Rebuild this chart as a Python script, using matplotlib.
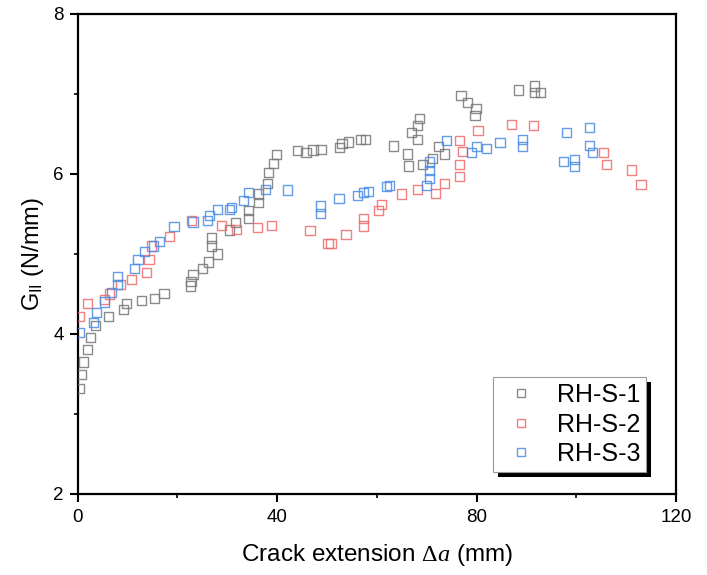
import matplotlib
matplotlib.use("Agg")
import matplotlib.pyplot as plt
from matplotlib.patches import Rectangle
from matplotlib.lines import Line2D

plt.rcParams['font.family'] = ['Liberation Sans', 'DejaVu Sans']
plt.rcParams['mathtext.fontset'] = 'custom'
plt.rcParams['mathtext.rm'] = 'Liberation Serif'
plt.rcParams['mathtext.it'] = 'Liberation Serif:italic'
plt.rcParams['mathtext.sf'] = 'Liberation Sans'

# ---- data ----
s1_x = [0.4, 0.7, 1.2, 1.9, 2.5, 3.6, 6.1, 9.2, 9.8, 12.8, 15.4, 17.3, 22.6, 22.7, 23.1,
        25.1, 26.3, 28.0, 26.9, 26.9, 30.5, 31.6, 34.3, 34.3, 36.3, 36.3, 38.1, 38.2, 39.3,
        39.9, 44.1, 45.8, 47.2, 48.8, 52.5, 53.0, 54.3, 56.7, 57.7, 63.4, 66.2, 66.4, 67.0,
        68.1, 68.5, 68.1, 69.2, 71.2, 72.3, 73.5, 76.9, 78.2, 79.9, 79.7, 88.5, 91.6, 91.6, 92.9]
s1_y = [3.32, 3.49, 3.65, 3.81, 3.96, 4.11, 4.22, 4.31, 4.38, 4.42, 4.44, 4.51, 4.60, 4.66, 4.74,
        4.82, 4.90, 5.00, 5.10, 5.20, 5.30, 5.39, 5.44, 5.54, 5.64, 5.75, 5.88, 6.02, 6.13,
        6.24, 6.29, 6.27, 6.30, 6.31, 6.33, 6.38, 6.40, 6.43, 6.43, 6.35, 6.25, 6.10, 6.52,
        6.61, 6.69, 6.43, 6.12, 6.19, 6.34, 6.25, 6.98, 6.89, 6.82, 6.73, 7.05, 7.10, 7.02, 7.02]

s2_x = [0.4, 1.9, 5.3, 6.4, 8.6, 10.8, 13.8, 14.3, 14.8, 18.4, 22.8, 28.9, 31.9, 36.1, 38.9,
        46.6, 50.2, 50.8, 53.8, 57.3, 57.3, 60.3, 60.9, 65.0, 68.1, 71.7, 73.5, 76.6, 76.6,
        77.2, 76.6, 80.3, 87.0, 91.4, 105.4, 106.0, 111.1, 113.0]
s2_y = [4.22, 4.38, 4.43, 4.50, 4.62, 4.68, 4.77, 4.93, 5.10, 5.22, 5.42, 5.36, 5.31, 5.33, 5.36,
        5.29, 5.13, 5.13, 5.24, 5.35, 5.44, 5.54, 5.62, 5.75, 5.81, 5.76, 5.88, 5.97, 6.12,
        6.28, 6.42, 6.54, 6.62, 6.61, 6.27, 6.12, 6.05, 5.87]

s3_x = [0.4, 3.1, 3.7, 5.4, 6.7, 8.0, 8.0, 11.4, 12.1, 13.4, 15.2, 16.4, 19.3, 23.1, 26.0,
        26.5, 28.0, 30.5, 30.9, 33.2, 34.3, 37.7, 42.1, 48.7, 48.7, 52.4, 56.2, 57.4, 58.4,
        61.9, 62.5, 69.9, 70.5, 70.5, 70.5, 74.0, 79.0, 80.0, 82.0, 84.7, 89.3, 89.3, 97.4,
        98.0, 99.7, 99.7, 102.7, 102.7, 103.3]
s3_y = [4.02, 4.14, 4.27, 4.40, 4.52, 4.62, 4.72, 4.82, 4.93, 5.03, 5.10, 5.16, 5.34, 5.40, 5.42,
        5.48, 5.56, 5.56, 5.58, 5.67, 5.77, 5.81, 5.80, 5.60, 5.51, 5.69, 5.73, 5.77, 5.78,
        5.84, 5.86, 5.86, 5.94, 6.04, 6.15, 6.42, 6.27, 6.34, 6.32, 6.39, 6.43, 6.34, 6.16,
        6.52, 6.18, 6.09, 6.58, 6.36, 6.27]

labels = ['RH-S-1', 'RH-S-2', 'RH-S-3']
colors = ['#777777', '#f06a6a', '#4a8be4']

x_ticks = [0, 40, 80, 120]
y_ticks = [2, 4, 6, 8]

fig = plt.figure(figsize=(7.07, 5.75), dpi=100)
ax = fig.add_axes([0.110, 0.1409, 0.846, 0.8348])

for xs, ys, c in zip([s1_x, s2_x, s3_x], [s1_y, s2_y, s3_y], colors):
    ax.scatter(xs, ys, marker='s', s=44, facecolors='none', edgecolors=c,
               linewidths=1.0, alpha=0.85, zorder=3)

ax.set_xlim(0, 120)
ax.set_ylim(2, 8)
ax.set_xticks(x_ticks)
ax.set_yticks(y_ticks)
ax.set_xticks([20, 60, 100], minor=True)
ax.set_yticks([3, 5, 7], minor=True)
ax.tick_params(axis='both', which='major', direction='out', length=6, width=1.5,
               labelsize=13.5, colors='black')
ax.tick_params(axis='x', which='major', pad=5)
ax.tick_params(axis='y', which='major', pad=4)
ax.tick_params(axis='both', which='minor', direction='out', length=3, width=1.2)
for sp in ax.spines.values():
    sp.set_linewidth(1.6)

ax.set_xlabel(r'Crack extension $\Delta\mathit{a}$ (mm)', fontsize=17.5, labelpad=11)
ax.set_ylabel(r'G$_{\mathsf{II}}$ (N/mm)', fontsize=17, labelpad=5)

handles = [Line2D([], [], marker='s', linestyle='none', markersize=6,
                  markerfacecolor='none', markeredgecolor=c, markeredgewidth=1.0, alpha=0.85)
           for c in colors]
leg = ax.legend(handles, labels, loc='upper left', bbox_to_anchor=(0.694, 0.244, 0.256, 0.0),
                mode='expand', fontsize=18, frameon=True, fancybox=False,
                edgecolor='#999999', framealpha=1, borderpad=0.25, labelspacing=0.22,
                handletextpad=0.55, handlelength=1.76, borderaxespad=0)
leg.get_frame().set_linewidth(0.8)
leg.set_zorder(10)

fig.canvas.draw()
bb = leg.get_window_extent()
shadow = Rectangle((bb.x0 + 5, bb.y0 - 5), bb.width, bb.height, transform=None,
                   facecolor='black', edgecolor='none', zorder=9, clip_on=False)
ax.add_artist(shadow)

fig.savefig('out.png', dpi=100)
